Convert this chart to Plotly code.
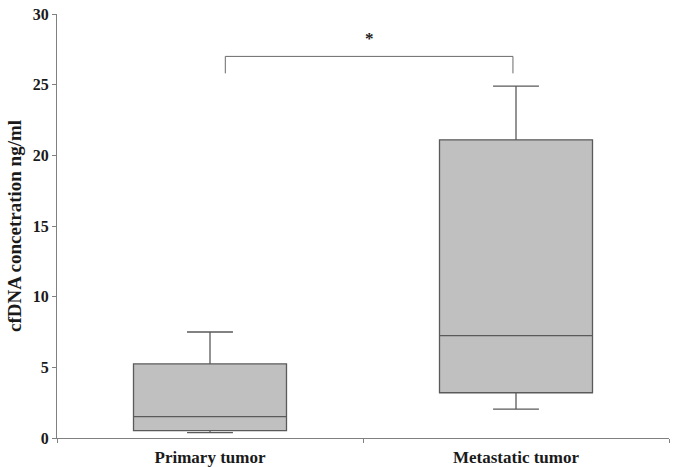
import plotly.graph_objects as go

categories = ["Primary tumor", "Metastatic tumor"]
lower_whisker = [0.38, 2.05]
q1 = [0.52, 3.2]
median = [1.51, 7.25]
q3 = [5.24, 21.1]
upper_whisker = [7.5, 24.9]

y_ticks = [0, 5, 10, 15, 20, 25, 30]
bracket_top = 27.0
bracket_bottom = 25.8
bracket_left = 0.05
bracket_right = 0.99
sig_label = "*"

font_family = "Liberation Serif, DejaVu Serif, serif"

fig = go.Figure()
fig.add_trace(go.Box(
    x=categories,
    q1=q1, median=median, q3=q3,
    lowerfence=lower_whisker, upperfence=upper_whisker,
    fillcolor="#c0c0c0",
    line=dict(color="#5a5a5a", width=1.3),
    whiskerwidth=0.3,
    width=0.5,
    boxpoints=False,
    hoverinfo="skip",
    showlegend=False,
))

line_style = dict(color="#6a6a6a", width=1)
fig.add_shape(type="line", xref="x", yref="y", x0=bracket_left, x1=bracket_right,
              y0=bracket_top, y1=bracket_top, line=line_style)
fig.add_shape(type="line", xref="x", yref="y", x0=bracket_left, x1=bracket_left,
              y0=bracket_top, y1=bracket_bottom, line=line_style)
fig.add_shape(type="line", xref="x", yref="y", x0=bracket_right, x1=bracket_right,
              y0=bracket_top, y1=bracket_bottom, line=line_style)
fig.add_annotation(x=(bracket_left + bracket_right) / 2, y=bracket_top + 1.3,
                   xref="x", yref="y", text=sig_label, showarrow=False,
                   font=dict(family=font_family, size=17, color="#222222", weight="bold"))

fig.update_layout(
    width=678, height=467,
    margin=dict(l=57, r=9, t=14, b=29, autoexpand=False),
    plot_bgcolor="white", paper_bgcolor="white",
    font=dict(family=font_family, size=13, color="#1a1a1a"),
    xaxis=dict(
        type="category", range=[-0.5, 1.5],
        showline=True, linecolor="#808080", linewidth=1,
        ticks="outside", tickson="boundaries", ticklen=4, tickcolor="#808080",
        showgrid=False, zeroline=False, ticklabelstandoff=4,
        tickfont=dict(family=font_family, size=17, color="#1a1a1a", weight="bold"),
    ),
    yaxis=dict(
        range=[0, 30], tickvals=y_ticks,
        showline=True, linecolor="#808080", linewidth=1,
        ticks="outside", ticklen=4, tickcolor="#808080",
        showgrid=False, zeroline=False,
        tickfont=dict(family=font_family, size=16, color="#1a1a1a", weight="bold"),
        title=dict(text="cfDNA concetration ng/ml", standoff=6,
                   font=dict(family=font_family, size=19, color="#1a1a1a", weight="bold")),
    ),
)

fig.write_html("out.html", config={"displayModeBar": False},
               post_script="document.body.style.margin='0';")
